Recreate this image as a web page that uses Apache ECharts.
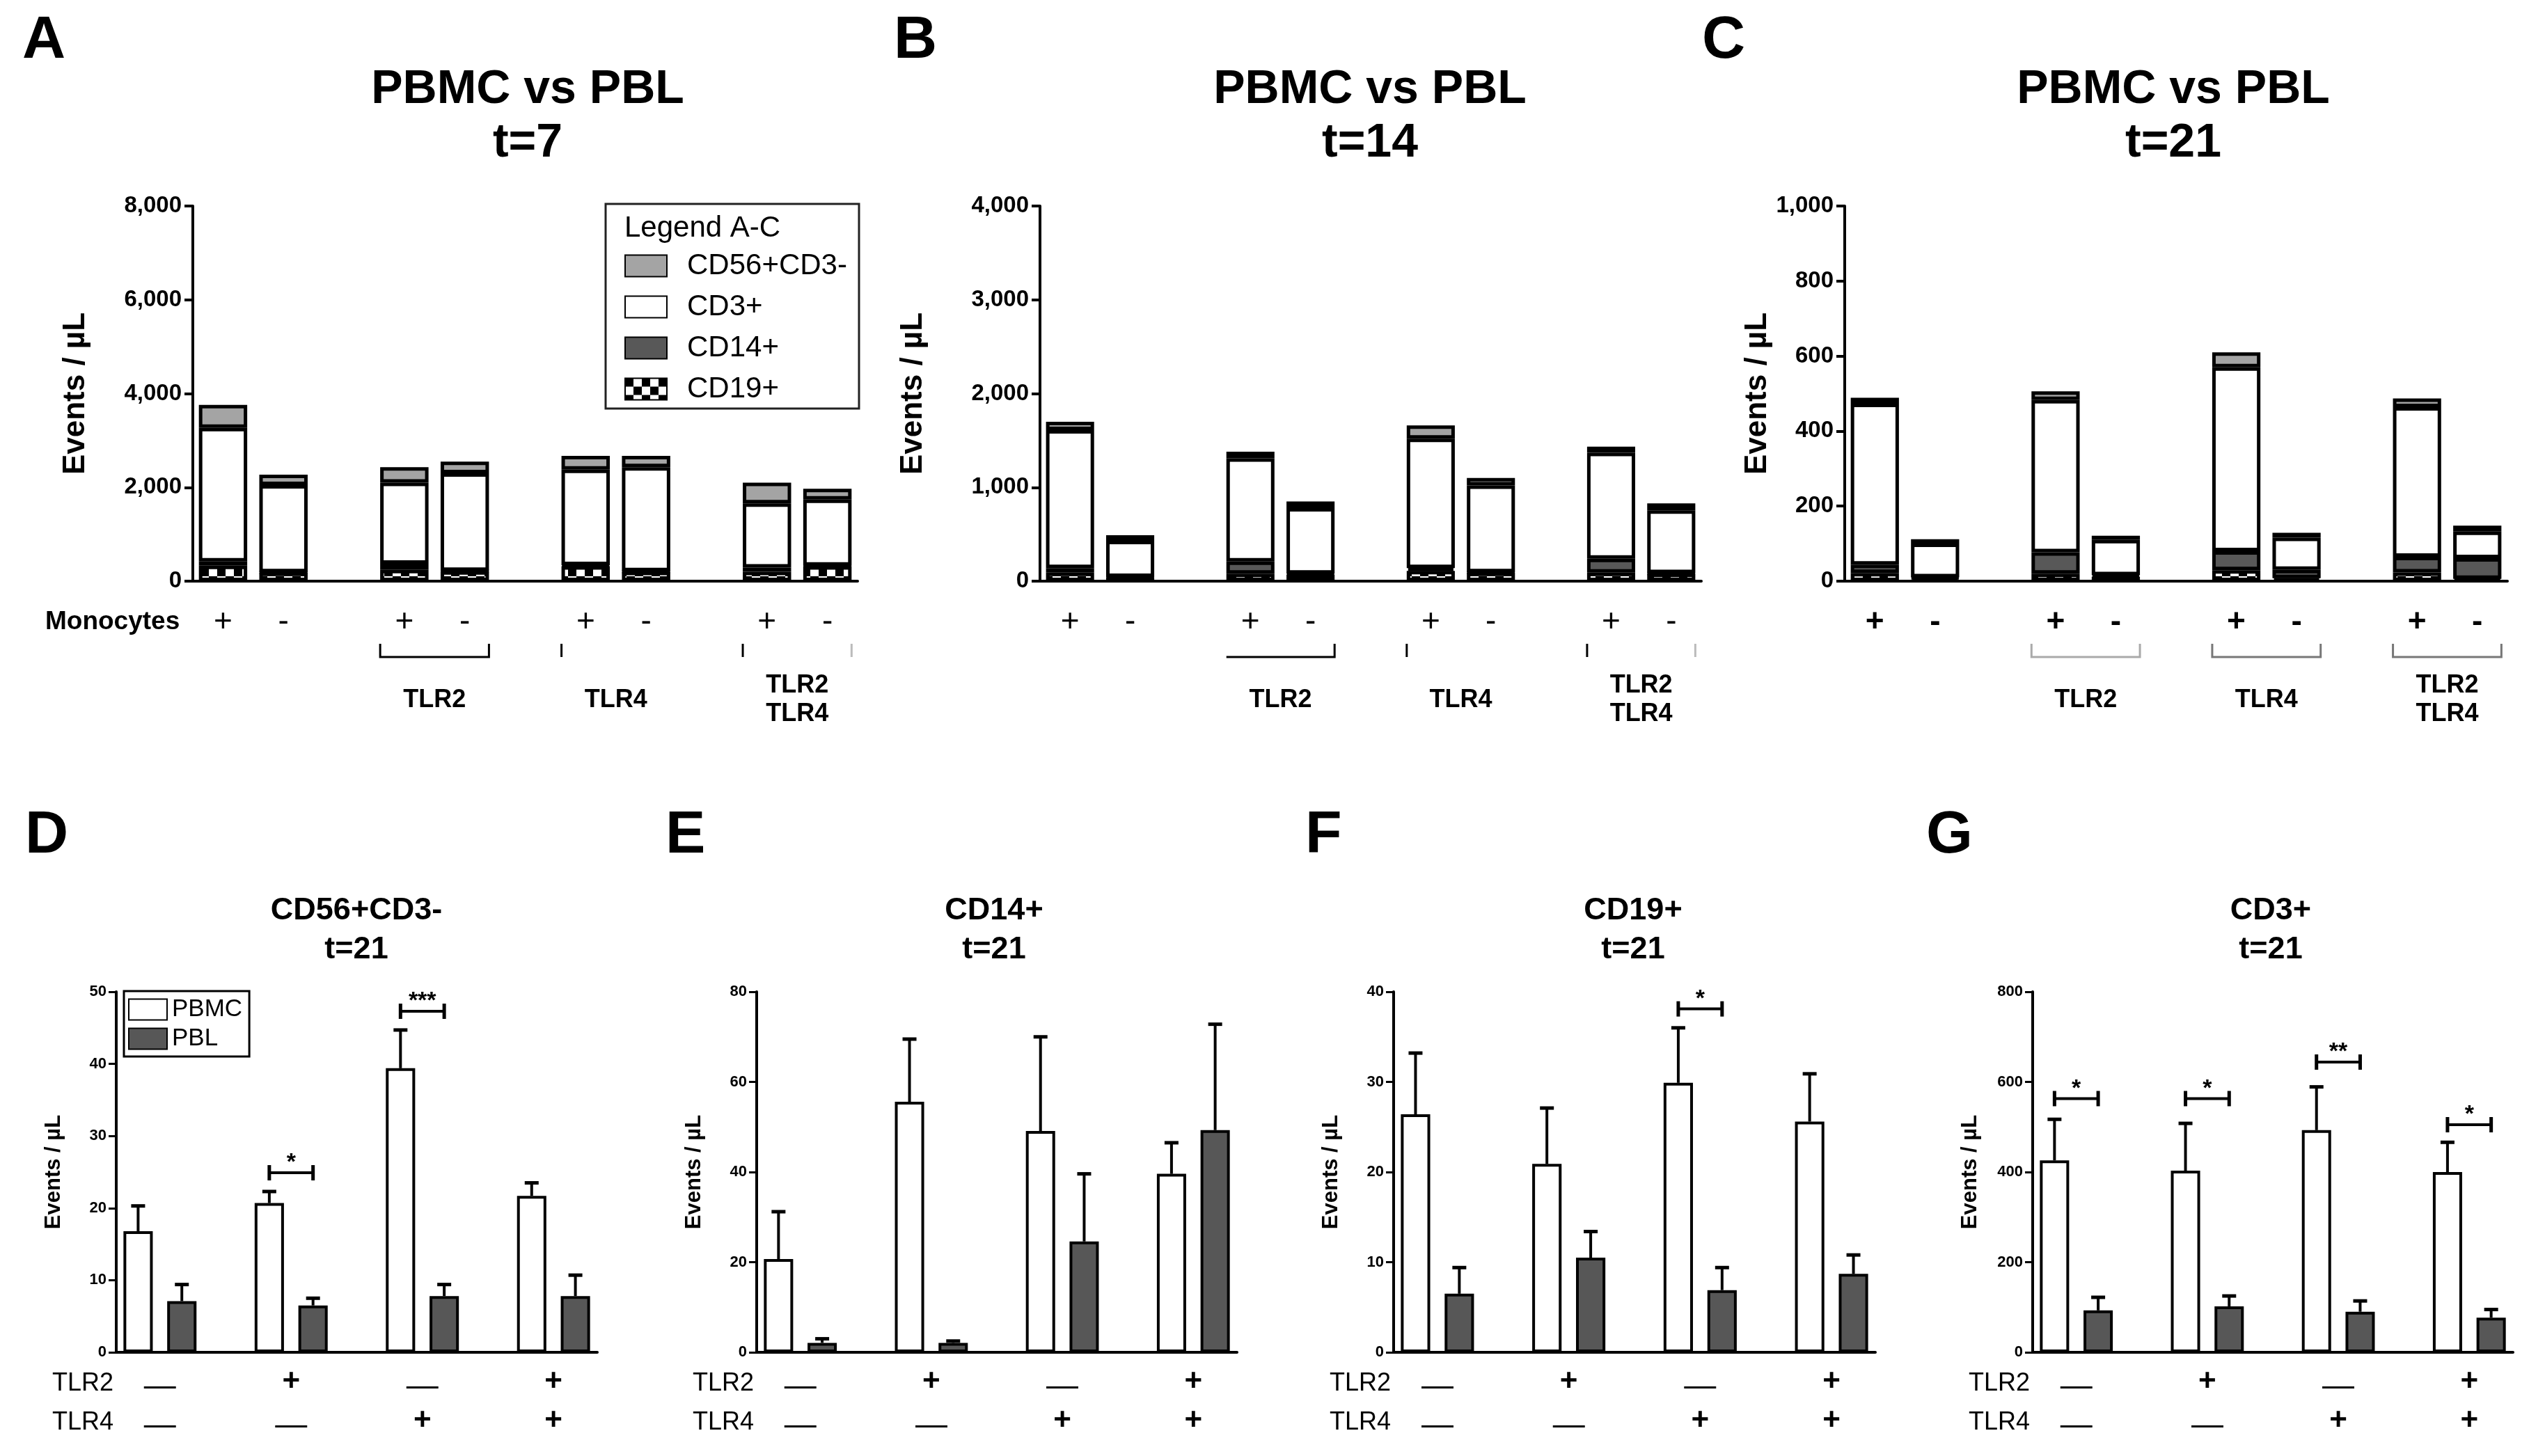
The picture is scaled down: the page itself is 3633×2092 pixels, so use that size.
<!DOCTYPE html>
<html><head><meta charset="utf-8">
<script src="https://cdn.jsdelivr.net/npm/echarts@6/dist/echarts.min.js"></script>
<style>html,body{margin:0;padding:0;background:#fff}#c{width:3633px;height:2092px}</style>
</head><body><div id="c"></div>
<script>
// ================= DATA =================
// Top panels: 8 bars each (PBMC/PBL pairs), stacked cell types
const slotLabels = ['+','-','','+','-','','+','-','','+','-'];   // monocytes +/- under each slot
const groupNames = ['TLR2','TLR4','TLR2\nTLR4'];
const stackNames = ['CD19+','CD14+','CD3+','CD56+CD3-'];           // bottom -> top
const legendOrder = ['CD56+CD3-','CD3+','CD14+','CD19+'];

// Panel A, t=7
const A_CD19 = [330,180,240,210,320,200,200,320];
const A_CD14 = [90,10,130,10,20,10,90,10];
const A_CD3  = [2850,1860,1730,2080,2040,2220,1370,1410];
const A_CD56 = [490,220,330,250,290,240,440,230];
// Panel B, t=14
const B_CD19 = [90,40,80,70,110,90,90,80];
const B_CD14 = [50,5,130,10,30,5,150,5];
const B_CD3  = [1470,385,1100,700,1380,925,1130,670];
const B_CD56 = [90,60,70,70,140,80,65,75];
// Panel C, t=21
const C_CD19 = [22,8,20,12,29,8,23,6];
const C_CD14 = [22,2,57,4,51,22,42,55];
const C_CD3  = [429,90,406,94,490,86,399,71];
const C_CD56 = [16,12,23,11,40,13,23,16];

// Bottom panels (t=21): PBMC vs PBL per TLR condition, mean and SD
const tlr2Row = ['—','+','—','+'];
const tlr4Row = ['—','—','+','+'];
const D_PBMC = [16.8,20.7,39.4,21.7], D_PBMC_SD = [3.5,1.6,5.3,1.8];
const D_PBL  = [7.1,6.5,7.8,7.8],     D_PBL_SD  = [2.3,1.0,1.6,2.9];
const D_SIG  = [[1,24.9,1],[2,47.3,3]];            // [group, y, stars]
const E_PBMC = [20.7,55.6,49.1,39.6], E_PBMC_SD = [10.5,13.9,20.9,6.9];
const E_PBL  = [2.1,2.1,24.6,49.3],   E_PBL_SD  = [0.9,0.4,15.0,23.5];
const E_SIG  = [];
const F_PBMC = [26.4,20.9,29.9,25.6], F_PBMC_SD = [6.8,6.2,6.1,5.3];
const F_PBL  = [6.5,10.5,6.9,8.7],    F_PBL_SD  = [2.9,2.9,2.5,2.1];
const F_SIG  = [[2,38.1,1]];
const G_PBMC = [426,403,493,400],     G_PBMC_SD = [91,105,96,66];
const G_PBL  = [93,102,90,77],        G_PBL_SD  = [29,23,24,18];
const G_SIG  = [[0,563,1],[1,563,1],[2,644,2],[3,505,1]];

// ================= HELPERS =================
const FONT = '"Liberation Sans", Arial, Helvetica, sans-serif';
const slotIds = slotLabels.map((_, i) => 's' + i);
const barSlots = [0,1,3,4,6,7,9,10];
function toSlots(arr){ const o = new Array(11).fill('-'); arr.forEach((v,i)=>{o[barSlots[i]]=v;}); return o; }
function toPair(arr, off){ const o = new Array(11).fill('-'); arr.forEach((v,i)=>{o[3*i+off]=v;}); return o; }
function errData(vals, sds, off){ return vals.map((v,i)=>[3*i+off, v, sds[i]]); }
function checker(){
  const c = document.createElement('canvas'); c.width = 24; c.height = 24;
  const g = c.getContext('2d');
  g.fillStyle = '#fff'; g.fillRect(0,0,24,24);
  g.fillStyle = '#000'; g.fillRect(0,0,12,12); g.fillRect(12,12,12,12);
  return c;
}
const stackColors = [{image: checker(), repeat: 'repeat'}, '#585858', '#ffffff', '#a4a4a4'];

const topPanels = [
  {letter:'A', letterX:32, title:'PBMC vs PBL\nt=7', titleX:758, max:8000, interval:2000,
   data:[A_CD19,A_CD14,A_CD3,A_CD56], grid:{left:277,top:296,width:955,height:539}, nameGap:146, bold:false,
   brackets:['lbr','l','lR'], bcolor:['#000','#000','#000']},
  {letter:'B', letterX:1284, title:'PBMC vs PBL\nt=14', titleX:1968, max:4000, interval:1000,
   data:[B_CD19,B_CD14,B_CD3,B_CD56], grid:{left:1494,top:296,width:950,height:539}, nameGap:160, bold:false,
   brackets:['br','l','lR'], bcolor:['#000','#000','#000']},
  {letter:'C', letterX:2445, title:'PBMC vs PBL\nt=21', titleX:3122, max:1000, interval:200,
   data:[C_CD19,C_CD14,C_CD3,C_CD56], grid:{left:2650,top:296,width:952,height:539}, nameGap:103, bold:true,
   brackets:['lbr','lbr','lbr'], bcolor:['#aaa','#777','#777']}
];
const botPanels = [
  {letter:'D', letterX:36, title:'CD56+CD3-\nt=21', titleX:512, max:50, interval:10,
   pbmc:D_PBMC, pbmcSD:D_PBMC_SD, pbl:D_PBL, pblSD:D_PBL_SD, sig:D_SIG, grid:{left:167,top:1425,width:691,height:518}},
  {letter:'E', letterX:956, title:'CD14+\nt=21', titleX:1428, max:80, interval:20,
   pbmc:E_PBMC, pbmcSD:E_PBMC_SD, pbl:E_PBL, pblSD:E_PBL_SD, sig:E_SIG, grid:{left:1087,top:1425,width:690,height:518}},
  {letter:'F', letterX:1875, title:'CD19+\nt=21', titleX:2346, max:40, interval:10,
   pbmc:F_PBMC, pbmcSD:F_PBMC_SD, pbl:F_PBL, pblSD:F_PBL_SD, sig:F_SIG, grid:{left:2002,top:1425,width:692,height:518}},
  {letter:'G', letterX:2767, title:'CD3+\nt=21', titleX:3262, max:800, interval:200,
   pbmc:G_PBMC, pbmcSD:G_PBMC_SD, pbl:G_PBL, pblSD:G_PBL_SD, sig:G_SIG, grid:{left:2920,top:1425,width:690,height:518}}
];

// ================= OPTION =================
const chart = echarts.init(document.getElementById('c'), null, {renderer:'canvas'});
const option = {
  animation:false, backgroundColor:'#ffffff',
  textStyle:{fontFamily:FONT, color:'#000'},
  title:[], grid:[], xAxis:[], yAxis:[], series:[], legend:[]
};

topPanels.forEach((p, gi) => {
  option.title.push({text:p.title, left:p.titleX, top:91, textAlign:'center', padding:0,
    textStyle:{fontSize:68, fontWeight:'bold', lineHeight:77, color:'#000', fontFamily:FONT}});
  option.grid.push(Object.assign({outerBoundsMode:'none'}, p.grid));
  option.xAxis.push({type:'category', gridIndex:gi, data:slotIds,
    axisLine:{lineStyle:{color:'#000', width:4}}, axisTick:{show:false},
    axisLabel:{interval:0, formatter:(v,i)=>slotLabels[i], fontSize:46, color:'#000', margin:36,
      fontWeight:p.bold?'bold':'normal', fontFamily:FONT},
    splitLine:{show:false}});
  option.yAxis.push({type:'value', gridIndex:gi, min:0, max:p.max, interval:p.interval,
    axisLine:{show:true, lineStyle:{color:'#000', width:4}},
    axisTick:{show:true, length:12, lineStyle:{color:'#000', width:4}},
    axisLabel:{fontSize:33, fontWeight:'bold', color:'#000', margin:16, fontFamily:FONT,
      formatter:v=>v.toLocaleString('en-US')},
    splitLine:{show:false},
    name:'Events / µL', nameLocation:'middle', nameGap:p.nameGap, nameMoveOverlap:false,
    nameTextStyle:{fontSize:44, fontWeight:'bold', color:'#000', fontFamily:FONT}});
  p.data.forEach((arr, k) => {
    option.series.push({type:'bar', name:stackNames[k], xAxisIndex:gi, yAxisIndex:gi, stack:'top'+gi,
      barWidth:'80%', itemStyle:{color:stackColors[k], borderColor:'#000', borderWidth:5},
      emphasis:{disabled:true}, data:toSlots(arr)});
  });
});

const errRender = (params, api) => {
  const x = api.value(0), v = api.value(1), e = api.value(2);
  const p0 = api.coord([x, v]), p1 = api.coord([x, v + e]);
  return {type:'group', children:[
    {type:'line', shape:{x1:p0[0], y1:p0[1], x2:p1[0], y2:p1[1]}, style:{stroke:'#000', lineWidth:4}},
    {type:'line', shape:{x1:p1[0]-10, y1:p1[1], x2:p1[0]+10, y2:p1[1]}, style:{stroke:'#000', lineWidth:5}}
  ]};
};
const sigRender = (params, api) => {
  const g = api.value(0), y = api.value(1), n = api.value(2);
  const a = api.coord([3*g, y]), b = api.coord([3*g+1, y]);
  return {type:'group', children:[
    {type:'line', shape:{x1:a[0], y1:a[1], x2:b[0], y2:b[1]}, style:{stroke:'#000', lineWidth:4}},
    {type:'line', shape:{x1:a[0], y1:a[1]-11, x2:a[0], y2:a[1]+11}, style:{stroke:'#000', lineWidth:5}},
    {type:'line', shape:{x1:b[0], y1:b[1]-11, x2:b[0], y2:b[1]+11}, style:{stroke:'#000', lineWidth:5}},
    {type:'text', x:(a[0]+b[0])/2, y:a[1]-14,
     style:{text:'*'.repeat(n), font:'bold 34px ' + FONT, fill:'#000', align:'center', verticalAlign:'middle'}}
  ]};
};

botPanels.forEach((p, j) => {
  const gi = j + 3;
  option.title.push({text:p.title, left:p.titleX, top:1281, textAlign:'center', padding:0,
    textStyle:{fontSize:45, fontWeight:'bold', lineHeight:56, color:'#000', fontFamily:FONT}});
  option.grid.push(Object.assign({outerBoundsMode:'none'}, p.grid));
  option.xAxis.push({type:'category', gridIndex:gi, data:slotIds,
    axisLine:{lineStyle:{color:'#000', width:4}}, axisTick:{show:false}, axisLabel:{show:false},
    splitLine:{show:false}});
  option.yAxis.push({type:'value', gridIndex:gi, min:0, max:p.max, interval:p.interval,
    axisLine:{show:true, lineStyle:{color:'#000', width:4}},
    axisTick:{show:true, length:11, lineStyle:{color:'#000', width:3}},
    axisLabel:{fontSize:22, fontWeight:'bold', color:'#000', margin:14, fontFamily:FONT},
    splitLine:{show:false},
    name:'Events / µL', nameLocation:'middle', nameGap:74, nameMoveOverlap:false,
    nameTextStyle:{fontSize:31, fontWeight:'bold', color:'#000', fontFamily:FONT}});
  option.series.push({type:'bar', name:'PBMC', xAxisIndex:gi, yAxisIndex:gi, stack:'b'+gi, barWidth:'67%',
    itemStyle:{color:'#ffffff', borderColor:'#000', borderWidth:4}, emphasis:{disabled:true}, data:toPair(p.pbmc,0)});
  option.series.push({type:'bar', name:'PBL', xAxisIndex:gi, yAxisIndex:gi, stack:'b'+gi, barWidth:'67%',
    itemStyle:{color:'#575757', borderColor:'#000', borderWidth:4}, emphasis:{disabled:true}, data:toPair(p.pbl,1)});
  option.series.push({type:'custom', name:'err'+gi, xAxisIndex:gi, yAxisIndex:gi, renderItem:errRender,
    encode:{x:0, y:[1,2]}, z:1, silent:true,
    data:errData(p.pbmc, p.pbmcSD, 0).concat(errData(p.pbl, p.pblSD, 1))});
  if (p.sig.length) {
    option.series.push({type:'custom', name:'sig'+gi, xAxisIndex:gi, yAxisIndex:gi, renderItem:sigRender,
      encode:{x:0, y:1}, silent:true, clip:false, data:p.sig});
  }
});

option.legend.push({data:legendOrder, orient:'vertical', left:897, top:361, padding:0,
  itemWidth:60, itemHeight:31, itemGap:17, icon:'rect', selectedMode:false, z:10,
  textStyle:{fontSize:42, color:'#000', fontFamily:FONT, padding:[0,0,0,24]}});
option.legend.push({data:['PBMC','PBL'], orient:'vertical', left:178, top:1424, padding:[9,10,8,6],
  itemWidth:55, itemHeight:30, itemGap:7, icon:'rect', selectedMode:false,
  borderColor:'#000', borderWidth:3, backgroundColor:'#fff',
  textStyle:{fontSize:35, color:'#000', fontFamily:FONT, padding:[0,0,0,2]}});

chart.setOption(option);

// ================= ANNOTATIONS (positioned from the axes) =================
function px(gi, slot, val){ return chart.convertToPixel({xAxisIndex:gi, yAxisIndex:gi}, [slot, val || 0]); }
const g = [];
function txt(x, y, text, font, align, extra){
  g.push(Object.assign({type:'text', x:x, y:y, z:20,
    style:{text:text, font:font, fill:'#000', align:align||'left', verticalAlign:'middle'}}, extra||{}));
}
// panel letters
topPanels.forEach(p => txt(p.letterX, 59, p.letter, 'bold 86px ' + FONT));
botPanels.forEach(p => txt(p.letterX, 1201, p.letter, 'bold 86px ' + FONT));

// legend A-C box + title
g.push({type:'rect', z:1, shape:{x:870, y:293, width:364, height:294}, style:{fill:'#fff', stroke:'#222', lineWidth:3}});
txt(897, 328, 'Legend A-C', '42px ' + FONT);

// Monocytes label
txt(65, 894, 'Monocytes', 'bold 37px ' + FONT);

// group brackets + labels under top panels
topPanels.forEach((p, gi) => {
  const sw = px(gi,1)[0] - px(gi,0)[0];
  const hb = sw * 0.4;
  const yTop = 925, yBot = 944;
  [0,1,2].forEach(k => {
    const s0 = 3*k + 3, s1 = s0 + 1;  // slots 3/4, 6/7, 9/10
    const xl = px(gi, s0)[0] - hb, xr = px(gi, s1)[0] + hb;
    const spec = p.brackets[k], col = p.bcolor[k];
    if (spec === 'lbr') g.push({type:'polyline', z:20, shape:{points:[[xl,yTop],[xl,yBot],[xr,yBot],[xr,yTop]]}, style:{stroke:col, lineWidth:3, fill:null}});
    if (spec === 'br') g.push({type:'polyline', z:20, shape:{points:[[xl,yBot],[xr,yBot],[xr,yTop]]}, style:{stroke:col, lineWidth:3, fill:null}});
    if (spec === 'l' || spec === 'lR') g.push({type:'line', z:20, shape:{x1:xl, y1:yTop, x2:xl, y2:yBot}, style:{stroke:col, lineWidth:3}});
    if (spec === 'lR') g.push({type:'line', z:20, shape:{x1:xr, y1:yTop, x2:xr, y2:yBot}, style:{stroke:'#bbb', lineWidth:3}});
    const xc = (px(gi, s0)[0] + px(gi, s1)[0]) / 2;
    g.push({type:'text', x:xc, y:1006, z:20,
      style:{text:groupNames[k], font:'bold 36px ' + FONT, fill:'#000', align:'center', verticalAlign:'middle', lineHeight:41}});
  });
});

// TLR2 / TLR4 rows under bottom panels
botPanels.forEach((p, j) => {
  const gi = j + 3;
  const ax = p.grid.left;
  txt(ax - 4, 1988, 'TLR2', '36px ' + FONT, 'right');
  txt(ax - 4, 2044, 'TLR4', '36px ' + FONT, 'right');
  [0,1,2,3].forEach(k => {
    const xc = (px(gi, 3*k)[0] + px(gi, 3*k+1)[0]) / 2;
    [[tlr2Row[k], 1988], [tlr4Row[k], 2044]].forEach(([s, y]) => {
      if (s === '+') txt(xc, y - 2, '+', 'bold 44px ' + FONT, 'center');
      else txt(xc, y + 4, '—', '46px ' + FONT, 'center');
    });
  });
});

chart.setOption({graphic:{elements:g}});
</script>
</body></html>
